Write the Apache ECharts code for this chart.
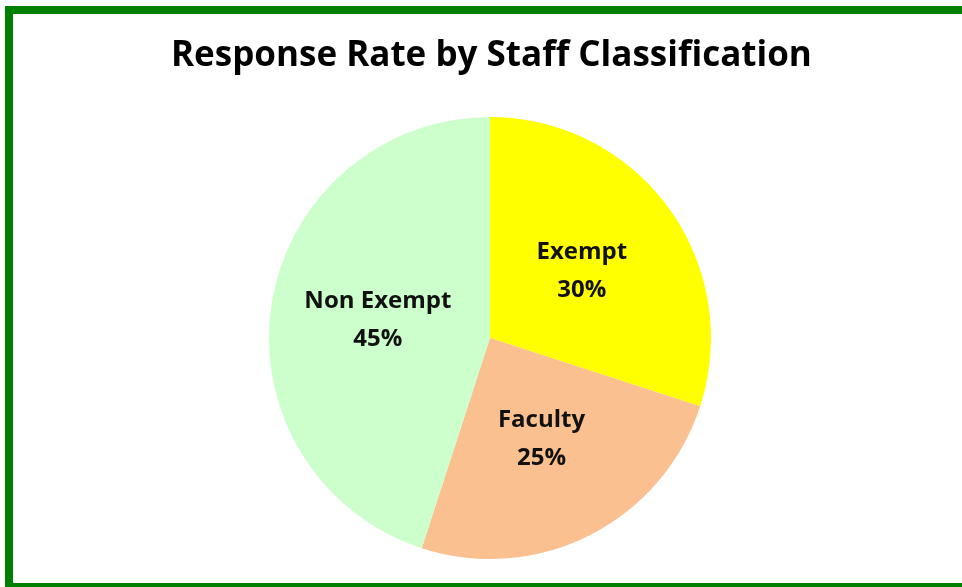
<!DOCTYPE html>
<html>
<head>
<meta charset="utf-8">
<script src="https://cdn.jsdelivr.net/npm/echarts@6/dist/echarts.min.js"></script>
<style>
html,body{margin:0;padding:0;background:#fff;}
#chart{width:962px;height:587px;}
</style>
</head>
<body>
<div id="chart"></div>
<script>
const categories = ['Exempt', 'Faculty', 'Non Exempt'];
const values = [30, 25, 45];
const colors = ['#FFFF00', '#FAC090', '#CCFFCC'];
const titleText = 'Response Rate by Staff Classification';

const chart = echarts.init(document.getElementById('chart'), null, {renderer: 'canvas'});
chart.setOption({
  animation: false,
  backgroundColor: '#ffffff',
  title: {
    text: titleText,
    left: 166,
    top: 34,
    textStyle: {
      fontFamily: 'Open Sans',
      fontWeight: 'bold',
      fontSize: 35,
      color: '#000000'
    }
  },
  graphic: [{
    type: 'rect',
    shape: {x: 9, y: 10, width: 1000, height: 577},
    style: {fill: 'none', stroke: '#008000', lineWidth: 8},
    silent: true
  }],
  series: [{
    type: 'pie',
    center: [490, 338],
    radius: [0, 221],
    startAngle: 90,
    clockwise: true,
    data: categories.map((c, i) => ({name: c, value: values[i], itemStyle: {color: colors[i]}})),
    itemStyle: {borderWidth: 0},
    label: {
      position: 'inside',
      formatter: '{b}\n{d}%',
      fontFamily: 'Open Sans',
      fontWeight: 'bold',
      fontSize: 24,
      lineHeight: 38,
      color: '#111111'
    },
    labelLine: {show: false},
    emphasis: {disabled: true}
  }]
});
</script>
</body>
</html>
